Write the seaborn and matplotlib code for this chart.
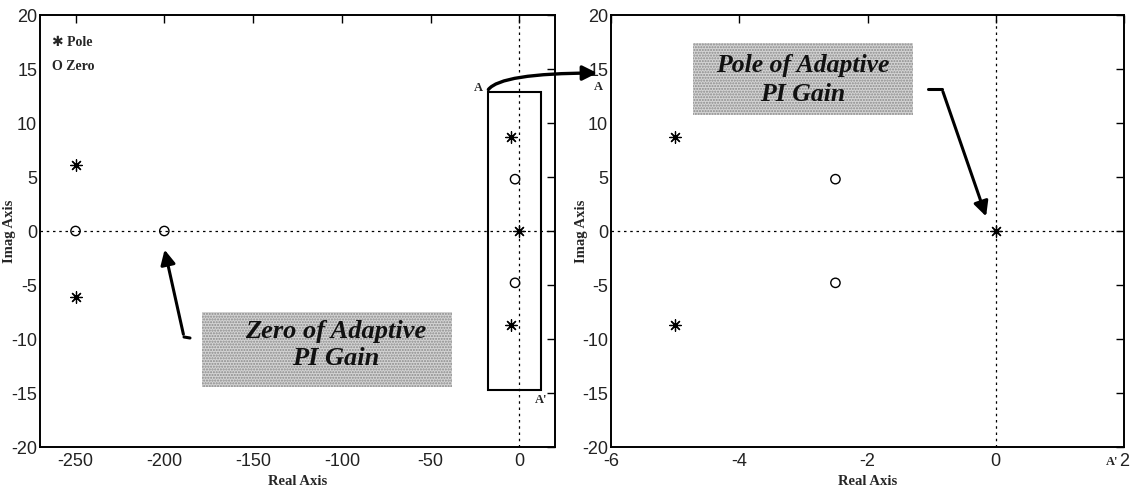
import matplotlib
matplotlib.use("Agg")
import matplotlib.pyplot as plt
import seaborn as sns
import pandas as pd
from matplotlib.patches import Rectangle, FancyArrowPatch
from matplotlib.lines import Line2D

# ---------------- data ----------------
left_pole_re = [-250, -250, -5, -5, 0]
left_pole_im = [6.1, -6.1, 8.7, -8.7, 0]
left_zero_re = [-250, -200, -2.5, -2.5]
left_zero_im = [0, 0, 4.8, -4.8]

right_pole_re = [-5, -5, 0]
right_pole_im = [8.7, -8.7, 0]
right_zero_re = [-2.5, -2.5]
right_zero_im = [4.8, -4.8]

left_xticks = [-250, -200, -150, -100, -50, 0]
right_xticks = [-6, -4, -2, 0, 2]
yticks = [-20, -15, -10, -5, 0, 5, 10, 15, 20]

zoom_box = (-18, -14.7, 12, 12.9)  # x0, y0, x1, y1 of region A-A'

sns.set_style("white")
plt.rcParams['font.family'] = ['Liberation Sans', 'DejaVu Sans']
plt.rcParams['axes.unicode_minus'] = False

W, H = 1132, 496
fig = plt.figure(figsize=(W / 100, H / 100), dpi=100)


def fx(x, y):
    return (x / W, 1 - y / H)


ax1 = fig.add_axes([40 / W, 1 - 447 / H, (555 - 40) / W, (447 - 15) / H])
ax2 = fig.add_axes([611 / W, 1 - 447 / H, (1124 - 611) / W, (447 - 15) / H])

serif_bold = dict(family=['Liberation Serif', 'DejaVu Sans'], weight='bold')


def draw(ax, pr, pi, zr, zi, xlim, xticks):
    ax.axhline(0, color='black', lw=0.9, ls=(0, (2, 3)), zorder=1)
    ax.axvline(0, color='black', lw=0.9, ls=(0, (2, 3)), zorder=1)
    dp = pd.DataFrame({'Real': pr, 'Imag': pi})
    dz = pd.DataFrame({'Real': zr, 'Imag': zi})
    sns.scatterplot(data=dp, x='Real', y='Imag', ax=ax, marker=(8, 2, 0),
                    s=70, color='black', edgecolor='black', linewidth=0.9, zorder=3)
    sns.scatterplot(data=dz, x='Real', y='Imag', ax=ax, marker='o',
                    s=45, facecolor='none', edgecolor='black', linewidth=1.0, zorder=3)
    ax.set_xlim(*xlim)
    ax.set_ylim(-20, 20)
    ax.set_xticks(xticks)
    ax.set_yticks(yticks)
    ax.tick_params(direction='in', top=True, right=True, length=6, width=1,
                   labelsize=13, colors='black', labelcolor='#222222', pad=2)
    ax.tick_params(axis='x', pad=4)
    for s in ax.spines.values():
        s.set_color('black')
        s.set_linewidth(1.4)
    ax.set_xlabel('Real Axis', fontsize=10.5, labelpad=4, **serif_bold)
    ax.set_ylabel('Imag Axis', fontsize=10.5, **serif_bold)


draw(ax1, left_pole_re, left_pole_im, left_zero_re, left_zero_im, (-270, 20), left_xticks)
draw(ax2, right_pole_re, right_pole_im, right_zero_re, right_zero_im, (-6, 2), right_xticks)
ax1.yaxis.set_label_coords(-0.047, 0.5)
ax2.yaxis.set_label_coords(-0.045, 0.5)

# region rectangle on left panel
x0, y0, x1, y1 = zoom_box
ax1.add_patch(Rectangle((x0, y0), x1 - x0, y1 - y0, fill=False, ec='black', lw=1.5,
                        zorder=4, clip_on=False))

# pole/zero key
fig.text(*fx(52, 42), '\u2731 Pole', fontsize=10, va='center', ha='left', **serif_bold)
fig.text(*fx(52, 66), 'O Zero', fontsize=10, va='center', ha='left', **serif_bold)

# A labels
fig.text(*fx(478, 88), 'A', fontsize=9, ha='center', va='center', **serif_bold)
fig.text(*fx(541, 400), "A'", fontsize=9, ha='center', va='center', **serif_bold)
fig.text(*fx(598, 87), 'A', fontsize=9, ha='center', va='center', **serif_bold)
fig.text(*fx(1112, 462), "A'", fontsize=9, ha='center', va='center', **serif_bold)

# curved arrow A -> A
fig.add_artist(FancyArrowPatch(fx(487, 92), fx(600, 73), transform=fig.transFigure,
                               connectionstyle='angle3,angleA=70,angleB=0', arrowstyle='-|>',
                               mutation_scale=22, lw=2.4, color='black'))

# stippled annotation boxes
def box(x0p, y0p, x1p, y1p):
    r = Rectangle(fx(x0p, y1p), (x1p - x0p) / W, (y1p - y0p) / H, transform=fig.transFigure,
                  facecolor='#d4d4d4', edgecolor='#8a8a8a', hatch='......', lw=0, zorder=2)
    fig.add_artist(r)


box(202, 312, 452, 387)
box(693, 43, 913, 115)

box_font = dict(family=['Liberation Serif', 'DejaVu Serif'], weight='bold', style='italic')
fig.text(*fx(336, 345), 'Zero of Adaptive\nPI Gain', fontsize=19, ha='center', va='center',
         linespacing=1.2, color='#111111', zorder=5, **box_font)
fig.text(*fx(803, 80), 'Pole of Adaptive\nPI Gain', fontsize=18.5, ha='center', va='center',
         linespacing=1.3, color='#111111', zorder=5, **box_font)

# zero arrow
fig.add_artist(Line2D([fx(190, 338)[0], fx(184, 337)[0]], [fx(190, 338)[1], fx(184, 337)[1]],
                      transform=fig.transFigure, color='black', lw=2.2))
fig.add_artist(FancyArrowPatch(fx(184, 337), fx(164, 247), transform=fig.transFigure,
                               arrowstyle='-|>', mutation_scale=22, lw=2.2, color='black'))
# pole arrow
fig.add_artist(Line2D([fx(928, 89)[0], fx(942, 89)[0]], [fx(928, 89)[1], fx(942, 89)[1]],
                      transform=fig.transFigure, color='black', lw=2.2))
fig.add_artist(FancyArrowPatch(fx(942, 89), fx(987, 219), transform=fig.transFigure,
                               arrowstyle='-|>', mutation_scale=22, lw=2.2, color='black'))

fig.savefig('out.png', dpi=100)
